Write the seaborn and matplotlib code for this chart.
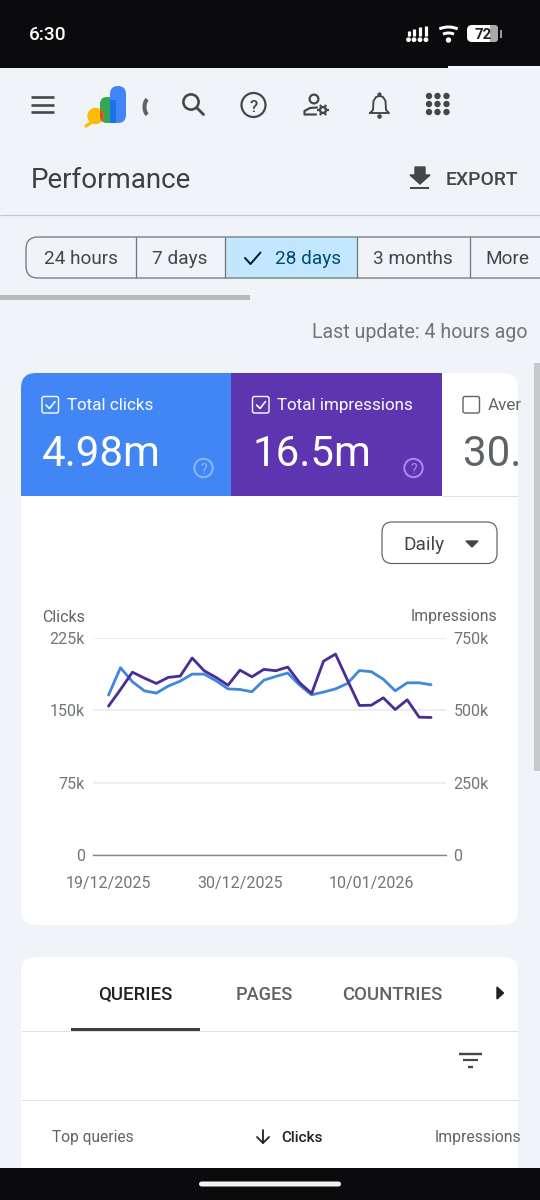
import numpy as np
import pandas as pd
import matplotlib
matplotlib.use("Agg")
import matplotlib.pyplot as plt
from matplotlib.patches import FancyBboxPatch, Rectangle, Circle, Polygon, Arc
import seaborn as sns

# ---- data ----
start_date = "2025-12-19"
clicks_k = [165.6, 193.9, 179.4, 170.0, 167.6, 174.9, 180.0, 187.3, 187.3, 180.4,
            172.0, 171.4, 169.0, 181.0, 184.9, 188.4, 175.9, 165.9, 168.7, 172.0,
            177.6, 191.0, 189.8, 182.0, 170.0, 178.3, 178.3, 176.3]
impressions_k = [513.8, 571.0, 631.0, 610.6, 592.0, 613.0, 617.5, 680.0, 636.0, 613.0,
                 586.0, 638.0, 615.0, 640.6, 636.0, 648.6, 594.5, 557.6, 669.0, 693.5,
                 603.7, 516.0, 517.0, 542.6, 502.0, 535.7, 475.8, 474.6]
clicks_ticks = [0, 75, 150, 225]
clicks_tick_labels = ["0", "75k", "150k", "225k"]
impr_ticks = [0, 250, 500, 750]
impr_tick_labels = ["0", "250k", "500k", "750k"]
date_ticks = ["2025-12-19", "2025-12-30", "2026-01-10"]
date_tick_labels = ["19/12/2025", "30/12/2025", "10/01/2026"]
range_labels = ["24 hours", "7 days", "28 days", "3 months", "More"]
tab_labels = ["QUERIES", "PAGES", "COUNTRIES"]

sns.set_theme(style="white")
plt.rcParams["font.family"] = ["Roboto", "DejaVu Sans"]

W, H = 540, 1200
PAGE = "#f0f4f9"
fig = plt.figure(figsize=(W / 100, H / 100), dpi=100, facecolor=PAGE)

# pixel-space canvas for the surrounding app interface
ui = fig.add_axes([0, 0, 1, 1], zorder=0)
ui.set_xlim(0, W)
ui.set_ylim(H, 0)
ui.axis("off")


def pt(px):
    return px * 0.72


def rect(x0, y0, x1, y1, color, z=1, **kw):
    p = Rectangle((x0, y0), x1 - x0, y1 - y0, facecolor=color, edgecolor="none", zorder=z, **kw)
    ui.add_patch(p)
    return p


def rbox(x0, y0, x1, y1, r, face, edge="none", lw=0, z=1):
    p = FancyBboxPatch((x0 + r, y0 + r), x1 - x0 - 2 * r, y1 - y0 - 2 * r,
                       boxstyle=f"round,pad={r},rounding_size={r}",
                       facecolor=face, edgecolor=edge, linewidth=lw, zorder=z)
    ui.add_patch(p)
    return p


def txt(x, y, s, px, color, ha="left", weight="normal", z=5, clip=None):
    t = ui.text(x, y, s, fontsize=pt(px), color=color, ha=ha, va="center_baseline",
                fontweight=weight, zorder=z)
    if clip is not None:
        t.set_clip_on(True)
        t.set_clip_path(clip)
    return t


def ln(xs, ys, color, w=2.5, z=5, cap="round"):
    return ui.plot(xs, ys, color=color, lw=pt(w), zorder=z, solid_capstyle=cap, solid_joinstyle="round")[0]


DARK = "#444746"
GREY = "#5f6368"

# system bars
rect(0, 0, W, 68, "#0b0b0d")
rect(448, 66, W, 68, "#f4f7fb", z=2)
rect(0, 1168, W, H, "#0b0b0d", z=3)
rbox(199, 1181.5, 341, 1186.5, 2.5, "#f2f2f2", z=4)
txt(29, 33.5, "6:30", 19, "white", weight="medium")
# signal
for x, top in zip([408.5, 414, 420, 426], [31, 29, 27, 25.5]):
    ln([x, x], [top, 36], "white", 3.2, cap="butt")
    ui.add_patch(Circle((x, 39.7), 1.7, color="white", zorder=5))
# wifi
for r, th in [(15, 3), (9, 3)]:
    ui.add_patch(Arc((448.5, 42), 2 * r * 1.25, 2 * r, theta1=235, theta2=305, color="white", lw=pt(th), zorder=5))
ui.add_patch(Circle((448.5, 40), 2, color="white", zorder=5))
# battery
rbox(467, 25, 498, 42, 5, "white", z=4)
rbox(490, 25, 498, 42, 3, "#a9a9a9", z=4)
rect(490, 25, 494, 42, "#a9a9a9", z=4)
rect(500, 30, 502, 38, "#9a9a9a", z=4)
txt(483.5, 33.5, "72", 15, "#222222", ha="center", weight="bold")

# toolbar icons
for y in (97, 104.5, 112):
    ln([30.5, 54], [y, y], DARK, 2.6, cap="butt")
# logo
green_bar = rbox(100, 97, 116, 123, 7, "#34a853", z=3)
rbox(110, 86, 126, 123, 8, "#4285f4", z=4)
rect(110, 100, 115.5, 123, "#1a73e8", z=5)
ln([95, 86], [120, 126], "#fbbc04", 3.4, z=3)
ui.add_patch(Circle((95.5, 116), 7.5, color="#fbbc04", zorder=4))
red = Circle((95.5, 116), 7.5, color="#ea4335", zorder=5)
ui.add_patch(red)
red.set_clip_path(green_bar)
ui.add_patch(Arc((150, 107), 11, 18, theta1=110, theta2=250, color="#5f6368", lw=pt(4), zorder=5))
# search
ui.add_patch(Circle((191, 102), 7.6, fill=False, ec=DARK, lw=pt(2.6), zorder=5))
ln([196.5, 203.5], [107.5, 114.5], DARK, 2.8)
# help
ui.add_patch(Circle((253.5, 105), 12, fill=False, ec=DARK, lw=pt(2.2), zorder=5))
txt(253.5, 105.5, "?", 17, DARK, ha="center", weight="medium")
# manage users
ui.add_patch(Circle((314, 99), 4.4, fill=False, ec=DARK, lw=pt(2.2), zorder=5))
ln([317, 310, 304.5, 304.5, 316], [107.5, 108, 111, 114.5, 114.5], DARK, 2.2)
ui.add_patch(Circle((323, 110), 3, fill=False, ec=DARK, lw=pt(2.4), zorder=5))
for ang in range(0, 360, 60):
    c, s = np.cos(np.radians(ang)), np.sin(np.radians(ang))
    ln([323 + 3.8 * c, 323 + 6 * c], [110 + 3.8 * s, 110 + 6 * s], DARK, 2.2, cap="butt")
# bell
ln([370, 373, 373.5, 376, 379.5, 383, 385.5, 386, 389, 370],
   [113, 110, 101, 97, 96, 97, 101, 110, 113, 113], DARK, 1.9)
ui.add_patch(Circle((379.5, 94.5), 1.4, color=DARK, zorder=5))
ui.add_patch(Circle((379.5, 116.5), 1.6, color=DARK, zorder=5))
# apps grid
for gy in (96, 104, 112):
    for gx in (429, 437.5, 446.5):
        ui.add_patch(Circle((gx, gy), 2.5, color=DARK, zorder=5))

# page title row
txt(31, 177.5, "Performance", 27.7, "#3c4043")
ui.add_patch(Polygon([[415, 167], [425, 167], [425, 175], [430, 175], [420, 184], [410, 175], [415, 175]],
                     color=DARK, zorder=5))
rect(410, 186.5, 429, 188.5, DARK, z=5)
txt(446, 178, "EXPORT", 19.4, DARK, weight="medium")
ln([0, W], [215, 215], "#c4c7c5", 1.2, cap="butt")

# date range selector
rect(224.5, 237, 357, 278, "#c2e7ff", z=2)
ui.add_patch(FancyBboxPatch((26, 237), 600, 41, boxstyle="round,pad=0,rounding_size=12",
                            facecolor="none", edgecolor="#747775", lw=pt(1.3), zorder=3))
for x in (135.5, 224.5, 357, 470):
    ln([x, x], [237, 278], "#747775", 1.3, cap="butt", z=3)
txt(80.5, 257.5, range_labels[0], 19, DARK, ha="center")
txt(180, 257.5, range_labels[1], 19, DARK, ha="center")
txt(308, 257.5, range_labels[2], 19, "#004a77", ha="center")
ln([245, 250.5, 260.5], [258, 264, 252.5], "#001d35", 2)
txt(413, 257.5, range_labels[3], 19, DARK, ha="center")
txt(485.5, 257.5, range_labels[4], 19, DARK)
rect(0, 295, 250, 300, "#b9babb")
txt(528, 331, "Last update: 4 hours ago", 19.7, "#70757a", ha="right")
rect(534, 363, 540, 771, "#c7c9cc")

# first card with metric tiles
card = rbox(21, 373, 518, 925, 15, "white", z=1)
rect(21, 373, 231, 496, "#4285f4", z=2).set_clip_path(card)
rect(231, 373, 441.5, 496, "#5e35b1", z=2).set_clip_path(card)
ln([441.5, 518], [495.5, 495.5], "#e0e0e0", 1, cap="butt", z=2)


def checkbox(x, y, edge, check=True):
    ui.add_patch(FancyBboxPatch((x + 2, y + 2), 12.5, 12.5, boxstyle="round,pad=2,rounding_size=2",
                                fc="none", ec=edge, lw=pt(1.4), zorder=5))
    if check:
        ln([x + 4, x + 7.5, x + 13], [y + 8.5, y + 12, y + 5], edge, 1.6)


checkbox(42, 396.5, "white")
txt(67, 404, "Total clicks", 17, "white")
txt(42, 450.5, "4.98m", 42, "white")
ui.add_patch(Circle((203.5, 468), 9.2, fill=False, ec="#8ab8f8", lw=pt(2), zorder=5))
txt(203.5, 468.5, "?", 14, "#8ab8f8", ha="center")
checkbox(252.5, 396.5, "white")
txt(277, 404, "Total impressions", 17, "white")
txt(252, 450.5, "16.5m", 42, "white")
ui.add_patch(Circle((413.5, 468), 9.2, fill=False, ec="#b388ee", lw=pt(2), zorder=5))
txt(413.5, 468.5, "?", 14, "#b388ee", ha="center")
checkbox(463, 396.5, "#5f6368", check=False)
txt(488, 404, "Aver", 17, "#5f6368", clip=card)
txt(463, 450.5, "30.", 42, "#5f6368")

# granularity dropdown
rbox(382, 522, 497, 563.5, 10, "white", edge="#5f6368", lw=pt(1.2), z=3)
txt(403.5, 543, "Daily", 19, DARK)
ui.add_patch(Polygon([[466, 541], [478, 541], [472, 547]], color=DARK, zorder=5))

txt(42, 615.5, "Clicks", 16, GREY)
txt(497, 615.5, "Impressions", 15.8, GREY, ha="right")

# second card
card2 = rbox(21, 957, 518, 1240, 15, "white", z=1)
txt(135.5, 993, tab_labels[0], 18.6, "#202124", ha="center", weight="medium")
txt(264, 993, tab_labels[1], 18.2, GREY, ha="center", weight="medium")
txt(392.5, 993, tab_labels[2], 18.7, GREY, ha="center", weight="medium")
ui.add_patch(Polygon([[497, 987], [503.5, 993], [497, 999]], color="#202124", zorder=5))
ln([21, 518], [1030.5, 1030.5], "#e0e0e0", 1, cap="butt", z=2)
rect(71, 1028, 200, 1030.5, "#3c4043", z=3)
ln([459, 482], [1053.5, 1053.5], DARK, 2.4, cap="butt")
ln([463, 477.5], [1060, 1060], DARK, 2.2, cap="butt")
ln([468, 473], [1066.5, 1066.5], DARK, 2.4, cap="butt")
ln([21, 518], [1099.5, 1099.5], "#e0e0e0", 1, cap="butt", z=2)
txt(52, 1136, "Top queries", 15.5, GREY)
ln([263, 263], [1130, 1143], "#202124", 1.8)
ln([257, 263, 269], [1137, 1143, 1137], "#202124", 1.8)
txt(281.5, 1136, "Clicks", 15.2, "#202124", weight="medium")
txt(435, 1136, "Impressions", 15.8, GREY, clip=card2)

# ---- the chart itself ----
dates = pd.date_range(start_date, periods=len(clicks_k), freq="D")
df = pd.DataFrame({"date": dates, "clicks": clicks_k, "impressions": impressions_k})

ax_left, ax_right, ax_top, ax_bottom = 93, 446, 637.7, 855
ax = fig.add_axes([ax_left / W, 1 - ax_bottom / H, (ax_right - ax_left) / W, (ax_bottom - ax_top) / H], zorder=2)
ax.patch.set_alpha(0)
sns.lineplot(data=df, x="date", y="clicks", ax=ax, color="#3f88dc", lw=pt(2.8), errorbar=None)
ax2 = ax.twinx()
ax2.set_zorder(3)
ax2.patch.set_alpha(0)
sns.lineplot(data=df, x="date", y="impressions", ax=ax2, color="#4a2d96", lw=pt(2.8), errorbar=None)

ax.set_ylim(clicks_ticks[0], clicks_ticks[-1])
ax2.set_ylim(impr_ticks[0], impr_ticks[-1])
ax.set_xlim(dates[0] - pd.Timedelta(days=1.3), dates[-1] + pd.Timedelta(days=1.25))
ax.set_yticks(clicks_ticks, clicks_tick_labels)
ax2.set_yticks(impr_ticks, impr_tick_labels)
ax.set_xticks(pd.to_datetime(date_ticks), date_tick_labels)
ax.set_xlabel("")
ax.set_ylabel("")
ax2.set_xlabel("")
ax2.set_ylabel("")
ax.yaxis.grid(True, color="#e9ebee", lw=pt(1.6))
ax.set_axisbelow(True)
ax.tick_params(axis="y", length=0, pad=pt(8), labelsize=pt(16), labelcolor="#70757a")
ax2.tick_params(axis="y", length=0, pad=pt(7.5), labelsize=pt(16), labelcolor="#70757a")
ax.tick_params(axis="x", length=0, pad=pt(21), labelsize=pt(16), labelcolor="#70757a")
for a in (ax, ax2):
    for name in ("top", "left", "right"):
        a.spines[name].set_visible(False)
    a.spines["bottom"].set_color("#80868b")
    a.spines["bottom"].set_linewidth(pt(1.2))

fig.savefig("out.png", dpi=100, facecolor=PAGE)
